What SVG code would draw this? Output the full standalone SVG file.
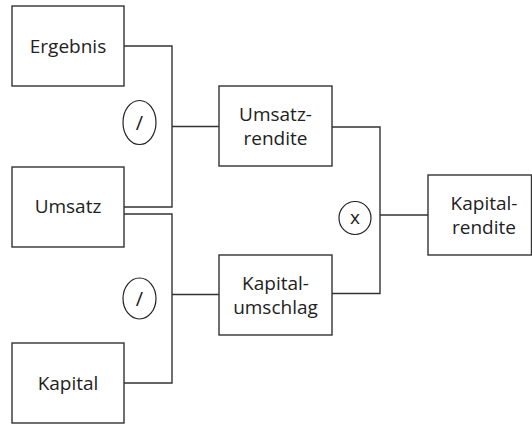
<svg xmlns="http://www.w3.org/2000/svg" width="532" height="426" viewBox="0 0 532 426">
<style>
.box{fill:#fff;stroke:#333;stroke-width:1.4}
.op{fill:#fff;stroke:#222;stroke-width:1.2}
.ln{fill:none;stroke:#333;stroke-width:1.4}
text{font-family:"Open Sans","Noto Sans",sans-serif;font-size:19px;fill:#222;text-anchor:middle}
.sym{font-size:20px}
</style>
<rect width="532" height="426" fill="#fff"/>
<g id="connectors">
<path class="ln" d="M124,46 H172 V207 H124"/>
<path class="ln" d="M124,214 H172 V383 H124"/>
<path class="ln" d="M172,126.5 H219"/>
<path class="ln" d="M172,294.5 H219"/>
<path class="ln" d="M332,127 H380 V293.5 H332"/>
<path class="ln" d="M380,215 H428"/>
</g>
<g id="ergebnis"><rect class="box" x="12" y="6" width="112" height="80"/><text x="68" y="53">Ergebnis</text></g>
<g id="umsatz"><rect class="box" x="12" y="167" width="112" height="80"/><text x="68" y="213">Umsatz</text></g>
<g id="kapital"><rect class="box" x="12" y="343" width="112" height="80"/><text x="68" y="389.5">Kapital</text></g>
<g id="div1"><ellipse class="op" cx="139.5" cy="122.5" rx="16.5" ry="22"/><text class="sym" x="139.5" y="129.5">/</text></g>
<g id="div2"><ellipse class="op" cx="139.5" cy="298.5" rx="16.5" ry="20.5"/><text class="sym" x="139.5" y="305.5">/</text></g>
<g id="umsatzrendite"><rect class="box" x="219" y="86" width="113" height="80"/><text x="275.5" y="120.5">Umsatz-</text><text x="275.5" y="145">rendite</text></g>
<g id="kapitalumschlag"><rect class="box" x="219" y="255" width="113" height="80"/><text x="275.5" y="290">Kapital-</text><text x="275.5" y="313.5">umschlag</text></g>
<g id="mul"><ellipse class="op" cx="355" cy="218" rx="16" ry="16.5"/><text x="355" y="224">x</text></g>
<g id="kapitalrendite"><rect class="box" x="428" y="175" width="103.5" height="80"/><text x="484" y="210">Kapital-</text><text x="484" y="233.5">rendite</text></g>
</svg>
